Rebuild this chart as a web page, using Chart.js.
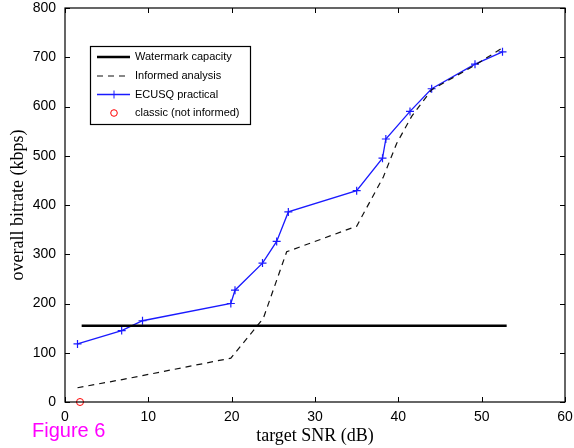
<!DOCTYPE html>
<html>
<head>
<meta charset="utf-8">
<script src="https://cdn.jsdelivr.net/npm/chart.js@4"></script>
<style>
html,body{margin:0;padding:0;background:#fff;}
#wrap{position:relative;width:574px;height:448px;}
#fig{position:absolute;left:32px;top:419px;font-family:"Liberation Sans",Arial,sans-serif;font-size:20px;line-height:23px;color:#ff00ff;}
</style>
</head>
<body>
<div id="wrap">
<canvas id="c" width="574" height="448"></canvas>
<div id="fig">Figure 6</div>
</div>
<script>
const snrPractical = [1.5, 6.8, 9.3, 19.9, 20.4, 23.7, 25.4, 26.8, 35.0, 38.1, 38.5, 41.4, 44.0, 49.2, 52.5];
const ratePractical = [118, 145, 165, 200, 227, 282, 326, 386, 429, 495, 534, 590, 636, 686, 711];
const snrInformed = [1.5, 7.0, 19.9, 23.8, 26.6, 35.0, 38.2, 39.8, 41.6, 44.0, 49.2, 52.5];
const rateInformed = [29, 46, 89, 170, 305, 357, 457, 525, 580, 634, 684, 719];
const snrCapacity = [2, 53];
const rateCapacity = [155, 155];
const snrClassic = [1.8];
const rateClassic = [0];
const xTicks = [0, 10, 20, 30, 40, 50, 60];
const yTicks = [0, 100, 200, 300, 400, 500, 600, 700, 800];
const seriesNames = ["Watermark capacity", "Informed analysis", "ECUSQ practical", "classic (not informed)"];

const pts = (xs, ys) => xs.map((x, i) => ({x: x, y: ys[i]}));

const frame = {
  id: 'frame',
  afterDatasetsDraw(chart) {
    const ctx = chart.ctx, a = chart.chartArea;
    const xs = chart.scales.x, ys = chart.scales.y;
    ctx.save();
    ctx.strokeStyle = '#000';
    ctx.lineWidth = 1.2;
    ctx.strokeRect(a.left, a.top, a.right - a.left, a.bottom - a.top);
    ctx.lineWidth = 1;
    ctx.beginPath();
    const L = 5;
    xTicks.forEach(v => {
      const p = Math.round(xs.getPixelForValue(v)) + 0.5;
      ctx.moveTo(p, a.bottom); ctx.lineTo(p, a.bottom - L);
      ctx.moveTo(p, a.top); ctx.lineTo(p, a.top + L);
    });
    yTicks.forEach(v => {
      const p = Math.round(ys.getPixelForValue(v)) + 0.5;
      ctx.moveTo(a.left, p); ctx.lineTo(a.left + L, p);
      ctx.moveTo(a.right, p); ctx.lineTo(a.right - L, p);
    });
    ctx.stroke();

    // legend box
    const bx = 90, by = 46, bw = 160, bh = 78;
    ctx.fillStyle = '#fff';
    ctx.fillRect(bx, by, bw, bh);
    ctx.lineWidth = 1.2;
    ctx.strokeRect(bx + 0.5, by + 0.5, bw, bh);
    ctx.font = '11px "Liberation Sans", Arial, sans-serif';
    ctx.textBaseline = 'middle';
    const rows = [57, 76, 94.5, 113];
    [0, 1, 2, 3].forEach((di, i) => {
      const ds = chart.data.datasets[di];
      const y = rows[i];
      ctx.save();
      if (di === 3) {
        ctx.strokeStyle = ds.pointBorderColor;
        ctx.lineWidth = 1;
        ctx.beginPath();
        ctx.arc(114, y, 3.3, 0, Math.PI * 2);
        ctx.stroke();
      } else {
        ctx.strokeStyle = ds.borderColor;
        ctx.lineWidth = ds.borderWidth;
        ctx.setLineDash(ds.borderDash || []);
        ctx.beginPath();
        ctx.moveTo(97, y); ctx.lineTo(130, y);
        ctx.stroke();
        if (di === 2) {
          ctx.setLineDash([]);
          ctx.lineWidth = 1;
          ctx.beginPath();
          ctx.moveTo(114, y - 4); ctx.lineTo(114, y + 4);
          ctx.moveTo(110, y); ctx.lineTo(118, y);
          ctx.stroke();
        }
      }
      ctx.restore();
      ctx.fillStyle = '#000';
      ctx.fillText(ds.label, 135, y);
    });
    ctx.restore();
  }
};

new Chart(document.getElementById('c'), {
  type: 'scatter',
  data: {
    datasets: [
      {label: seriesNames[0], data: pts(snrCapacity, rateCapacity), showLine: true, borderColor: '#000', borderWidth: 2.5, pointRadius: 0},
      {label: seriesNames[1], data: pts(snrInformed, rateInformed), showLine: true, borderColor: '#111', borderWidth: 1.2, borderDash: [6, 5], pointRadius: 0},
      {label: seriesNames[2], data: pts(snrPractical, ratePractical), showLine: true, borderColor: '#1a1aff', borderWidth: 1.3, pointStyle: 'cross', pointRadius: 4, pointBorderWidth: 1.2, pointBorderColor: '#1a1aff'},
      {label: seriesNames[3], data: pts(snrClassic, rateClassic), showLine: false, pointStyle: 'circle', pointRadius: 3.5, pointBorderWidth: 1, pointBorderColor: '#ff0000', pointBackgroundColor: 'rgba(0,0,0,0)', borderColor: '#ff0000', clip: false}
    ]
  },
  options: {
    responsive: false,
    animation: false,
    layout: {padding: {left: 0, right: 9, top: 8, bottom: 0}},
    plugins: {legend: {display: false}, tooltip: {enabled: false}},
    scales: {
      x: {
        type: 'linear', min: 0, max: 60,
        afterBuildTicks: s => { s.ticks = xTicks.map(v => ({value: v})); },
        afterFit: s => { s.height = 46; s.paddingLeft = 0; s.paddingRight = 0; },
        grid: {display: false, drawTicks: false}, border: {display: false},
        ticks: {color: '#000', padding: 7, maxRotation: 0, font: {family: '"Liberation Sans", Arial, sans-serif', size: 14}},
        title: {display: true, text: 'target SNR (dB)', color: '#000', padding: {top: 0, bottom: 1}, font: {family: '"Liberation Serif", "Times New Roman", serif', size: 18}}
      },
      y: {
        type: 'linear', min: 0, max: 800,
        afterBuildTicks: s => { s.ticks = yTicks.map(v => ({value: v})); },
        afterFit: s => { s.width = 65; s.paddingTop = 0; s.paddingBottom = 0; },
        grid: {display: false, drawTicks: false}, border: {display: false},
        ticks: {color: '#000', padding: 9, font: {family: '"Liberation Sans", Arial, sans-serif', size: 14}},
        title: {display: true, text: 'overall bitrate (kbps)', color: '#000', padding: {top: 7, bottom: 0}, font: {family: '"Liberation Serif", "Times New Roman", serif', size: 18}}
      }
    }
  },
  plugins: [frame]
});
</script>
</body>
</html>
